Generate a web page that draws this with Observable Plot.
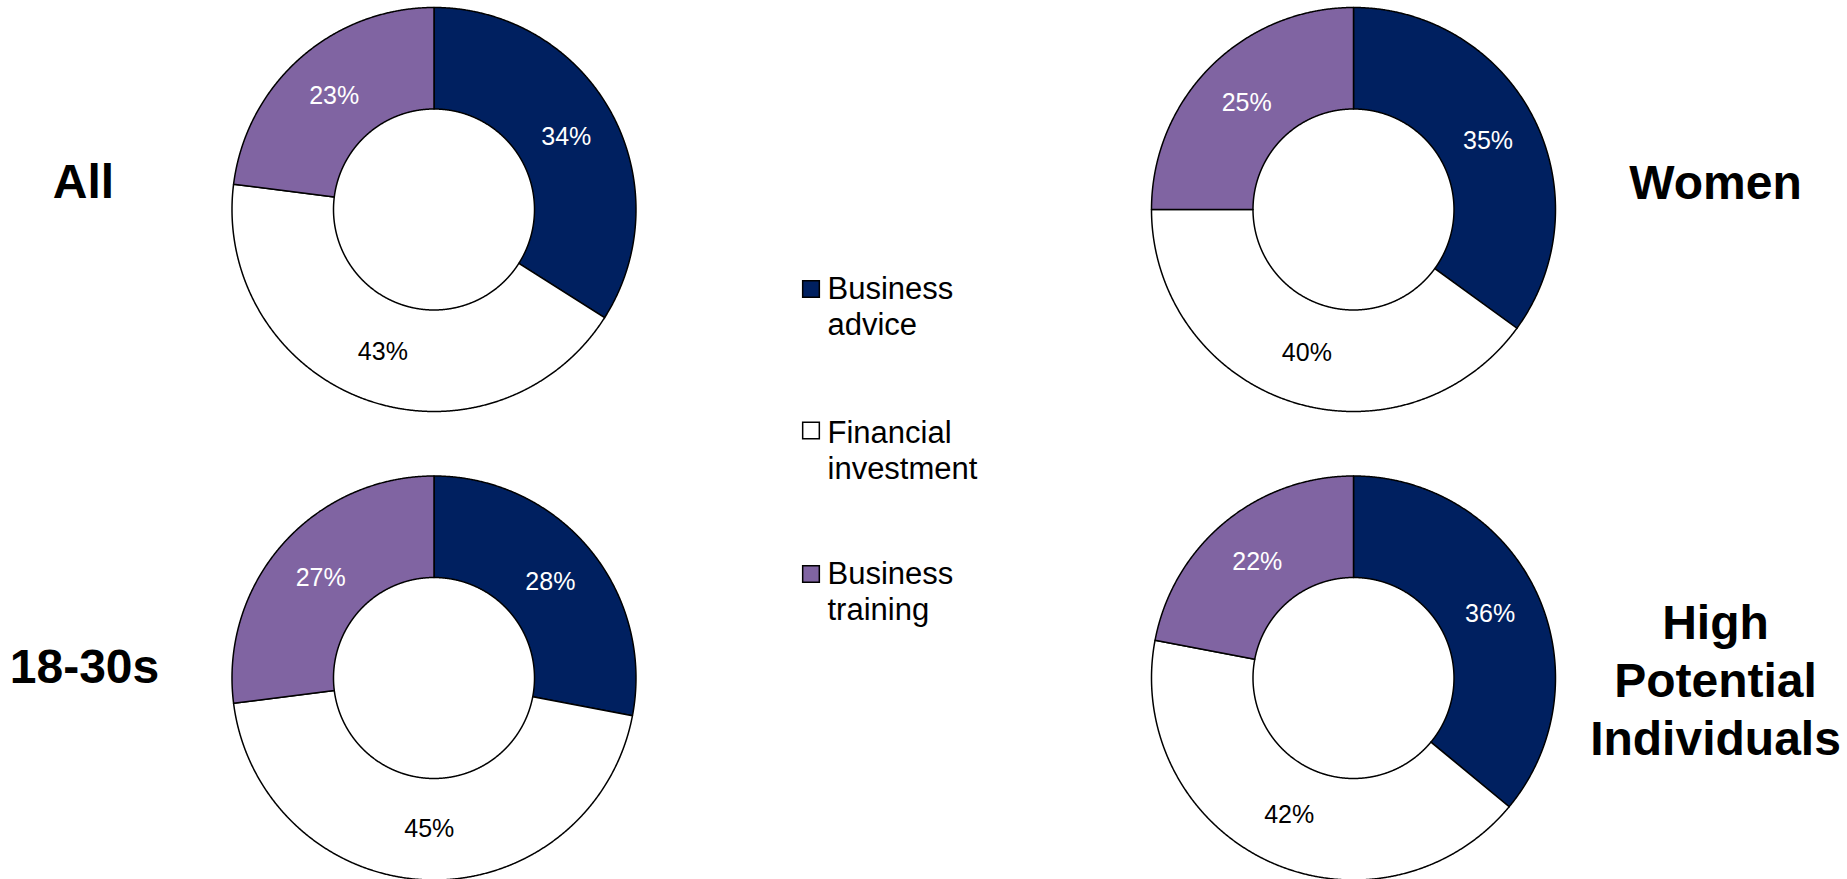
<!DOCTYPE html>
<html>
<head>
<meta charset="utf-8">
<script src="https://cdn.jsdelivr.net/npm/d3@7"></script>
<script src="https://cdn.jsdelivr.net/npm/@observablehq/plot@0.6"></script>
<style>
  html, body { margin: 0; padding: 0; background: #fff; }
  #chart svg { display: block; }
</style>
</head>
<body>
<div id="chart"></div>
<script>
// ---- data ----
const groups = ["All", "18-30s", "Women", "High Potential Individuals"];
const groupLabels = ["All", "18-30s", "Women", "High\nPotential\nIndividuals"];
const categories = ["Business advice", "Financial investment", "Business training"];
const legendLabels = ["Business\nadvice", "Financial\ninvestment", "Business\ntraining"];
const businessAdvice = [34, 28, 35, 36];
const financialInvestment = [43, 45, 40, 42];
const businessTraining = [23, 27, 25, 22];

// ---- styles / layout ----
const colors = ["#002060", "#ffffff", "#8064A2"];
const labelColors = ["white", "black", "white"];
const W = 1847, H = 879;
const centers = [[433.5, 209], [433.5, 677.5], [1353, 209], [1353, 677.5]];
const rOuter = 202, rInner = 100.5, rLabel = 151;
const groupLabelPos = [[83, 197], [84, 682], [1715, 198], [1715, 754]];
const legendSquareX = 810.5, legendTextX = 827;
const legendSquareY = [288.5, 430, 573.5];
const legendTextBottom = [334, 478, 619];

const series = [businessAdvice, financialInvestment, businessTraining];

// build slice polygons and label anchor points from the values
const polys = [];
const labels = [];
groups.forEach((g, gi) => {
  const [cx, cy] = centers[gi];
  let acc = 0;
  categories.forEach((c, ci) => {
    const v = series[ci][gi];
    const a0 = (acc / 100) * 2 * Math.PI;
    const a1 = ((acc + v) / 100) * 2 * Math.PI;
    acc += v;
    const id = g + "|" + c;
    const steps = Math.max(2, Math.ceil((a1 - a0) / (Math.PI / 720)));
    for (let s = 0; s <= steps; s++) {
      const a = a0 + (a1 - a0) * s / steps;
      polys.push({id, category: c, x: cx + rOuter * Math.sin(a), y: cy - rOuter * Math.cos(a)});
    }
    for (let s = steps; s >= 0; s--) {
      const a = a0 + (a1 - a0) * s / steps;
      polys.push({id, category: c, x: cx + rInner * Math.sin(a), y: cy - rInner * Math.cos(a)});
    }
    const am = (a0 + a1) / 2;
    labels.push({
      text: v + "%",
      x: cx + rLabel * Math.sin(am),
      y: cy - rLabel * Math.cos(am),
      color: labelColors[ci]
    });
  });
});

const groupText = groups.map((g, i) => ({text: groupLabels[i], x: groupLabelPos[i][0], y: groupLabelPos[i][1]}));
const legendSquares = categories.map((c, i) => ({category: c, x: legendSquareX, y: legendSquareY[i]}));
const legendTexts = categories.map((c, i) => ({text: legendLabels[i], x: legendTextX, y: legendTextBottom[i]}));

const chart = Plot.plot({
  width: W,
  height: H,
  margin: 0,
  x: {domain: [0, W], range: [0, W], axis: null},
  y: {domain: [0, H], range: [0, H], axis: null},
  color: {domain: categories, range: colors},
  style: {fontFamily: "'Liberation Sans', Arial, sans-serif", background: "white", color: "black"},
  marks: [
    Plot.line(polys, {x: "x", y: "y", z: "id", fill: "category", stroke: "black", strokeWidth: 1.5, curve: "linear-closed"}),
    Plot.text(labels.filter(d => d.color === "white"), {x: "x", y: "y", text: "text", fill: "white", fontSize: 25}),
    Plot.text(labels.filter(d => d.color === "black"), {x: "x", y: "y", text: "text", fill: "black", fontSize: 25}),
    Plot.text(groupText, {x: "x", y: "y", text: "text", fill: "black", fontSize: 48, fontWeight: "bold", textAnchor: "middle", lineAnchor: "bottom", lineHeight: 1.2}),
    Plot.dot(legendSquares, {x: "x", y: "y", fill: "category", stroke: "black", strokeWidth: 1.5, symbol: "square", r: 9.4}),
    Plot.text(legendTexts, {x: "x", y: "y", text: "text", fill: "black", fontSize: 31, textAnchor: "start", lineAnchor: "bottom", lineHeight: 1.15})
  ]
});
document.getElementById("chart").appendChild(chart);
</script>
</body>
</html>
